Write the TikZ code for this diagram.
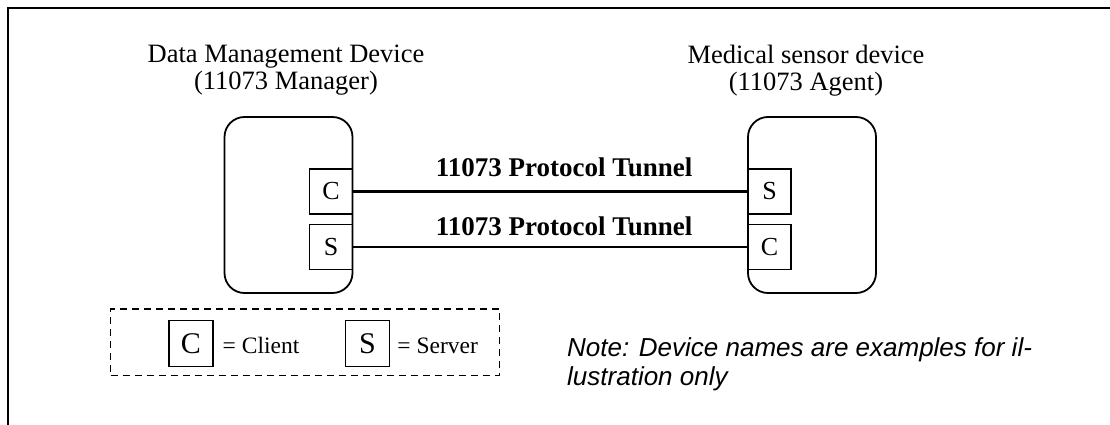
\documentclass[tikz,border=0pt]{standalone}
\usepackage{fontspec}
\setmainfont{Liberation Serif}
\newfontfamily\notefont{Liberation Sans}
\usetikzlibrary{positioning}

\tikzset{
  device/.style={draw, line width=1.8pt, rounded corners=20pt, minimum width=128pt, minimum height=176pt},
  port/.style={draw, line width=1.4pt, inner sep=0pt, minimum width=43pt, minimum height=45pt, font=\fontsize{26}{26}\selectfont},
  keyport/.style={port, minimum width=44pt, minimum height=46pt, font=\fontsize{30}{30}\selectfont},
  devname/.style={align=center, inner sep=0pt, anchor=north, font=\fontsize{26.5}{27}\selectfont},
  tunnel/.style={line width=2.2pt},
  tunnelname/.style={inner sep=0pt, font=\bfseries\fontsize{27}{27}\selectfont},
  keytext/.style={inner sep=0pt, font=\fontsize{23.5}{23.5}\selectfont}
}

\begin{document}
\begin{tikzpicture}[x=1pt, y=-1pt]
	\useasboundingbox (0,0) rectangle (1110,425);
	\draw[line width=2pt] (8,425) -- (8,8) -- (1110,8);
	
	\path (288.5,205) node[device] (mgr){}
	(812,205) node[device] (agt){}
	(331,191.5) node[port] (mgrC){C}
	(331,246.8) node[port] (mgrS){S}
	(769.5,191.5) node[port] (agtS){S}
	(769.5,246.8) node[port] (agtC){C}
	(286,44.9) node[devname] (mgrname){Data Management Device\\(11073 Manager)}
	(806,44.9) node[devname] (agtname){Medical sensor device\\(11073 Agent)};
	
	\draw[tunnel] (mgrC) -- node[tunnelname, pos=0.535, above=14pt] {11073 Protocol Tunnel} (agtS);
	\draw[tunnel] (mgrS) -- node[tunnelname, pos=0.535, above=10pt] {11073 Protocol Tunnel} (agtC);
	
	\path (305,342.3) node[draw, dash pattern=on 7pt off 5pt, line width=1.3pt, minimum width=388.6pt, minimum height=66.7pt] (key){}
	(190.8,343.7) node[keyport] (keyC){C}
	(367.5,343.7) node[keyport] (keyS){S};
	\node[keytext, right=9pt of keyC, yshift=-2pt] (keyCtext) {= Client};
	\node[keytext, right=7pt of keyS, yshift=-2pt] (keyStext) {= Server};
	
	\path (567,337.8) node[anchor=north west, align=left, inner sep=0pt, font=\notefont\itshape\fontsize{26}{28.3}\selectfont] (note){Note: Device names are examples for il-\\lustration only};
\end{tikzpicture}
\end{document}
